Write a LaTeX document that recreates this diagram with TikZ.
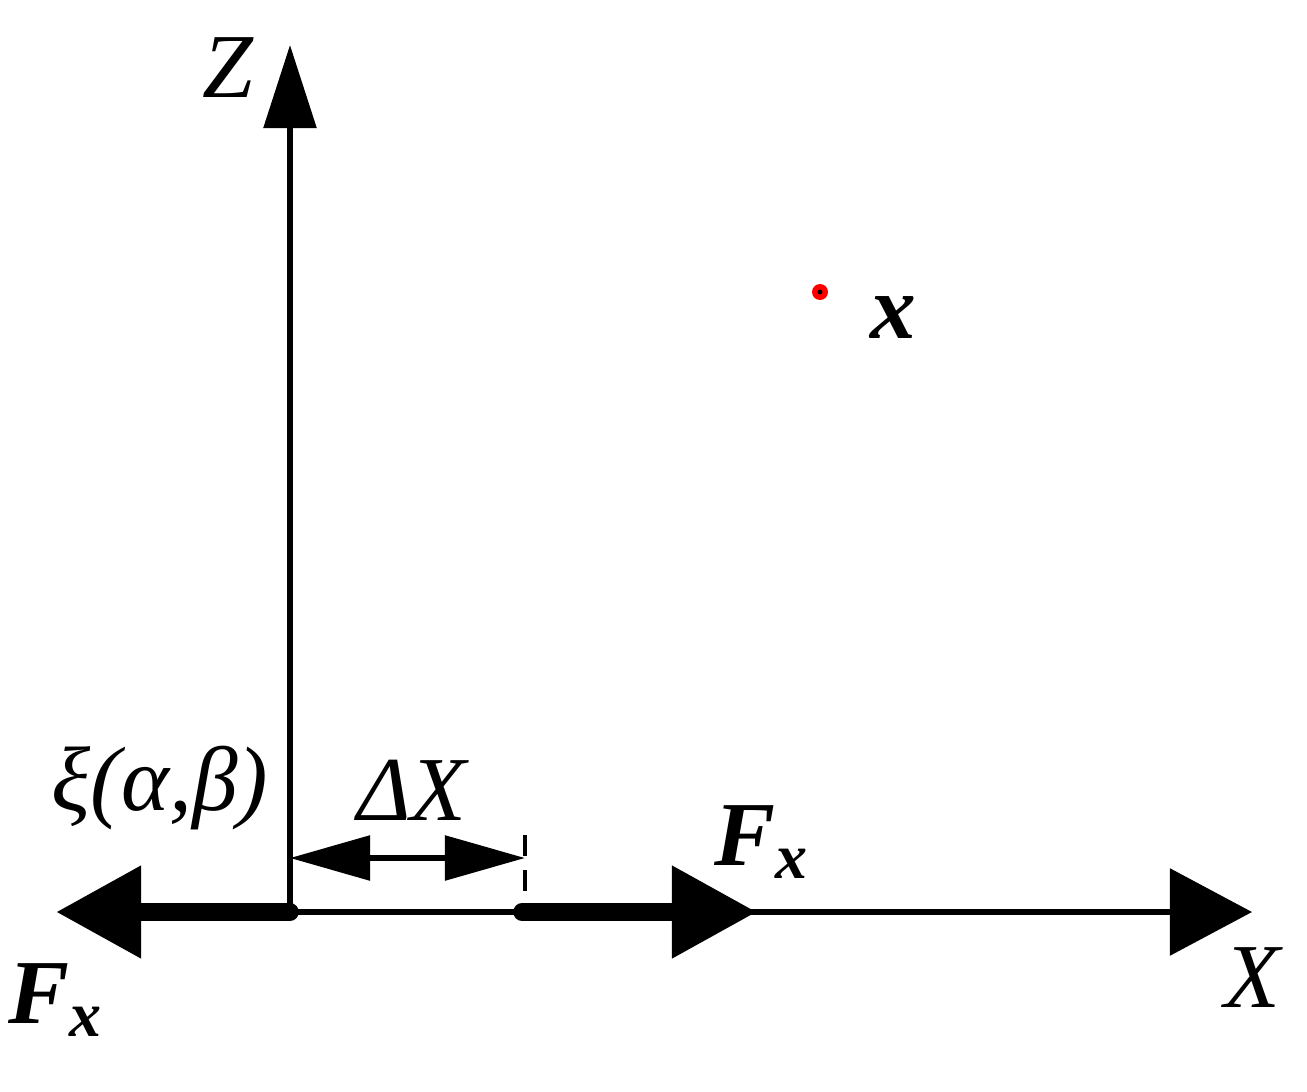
\documentclass[tikz,border=0pt]{standalone}
\usepackage{fontspec}
\setmainfont{Liberation Serif}
\usetikzlibrary{arrows.meta}
\begin{document}
\begin{tikzpicture}[x=0.01cm,y=-0.01cm,
  lbl/.style={inner sep=0pt,font=\fontsize{26}{30}\selectfont},
  axis/.style={line width=1.6pt,-{Triangle[length=0.82cm,width=0.86cm]}},
  force/.style={line width=5pt,line cap=round,-{Triangle[length=0.85cm,width=0.88cm]}}]
\useasboundingbox (0,0) rectangle (1307,1091);
\coordinate (O) at (290,912);
\coordinate (Ztip) at (290,45);
\coordinate (Xtip) at (1252,912);
\coordinate (Ltip) at (56,912);
\coordinate (R0) at (522,912);
\coordinate (Rtip) at (757,912);
\coordinate (D0) at (290,858);
\coordinate (D1) at (525,858);
\draw[line width=1.6pt,-{Triangle[length=0.83cm,width=0.52cm]}] (O) -- (Ztip);
\draw[axis] (O) -- (Xtip);
\draw[force] (O) -- (Ltip);
\draw[force] (R0) -- (Rtip);
\draw[line width=1.6pt,{Triangle[length=0.8cm,width=0.44cm]}-{Triangle[length=0.8cm,width=0.44cm]}] (D0) -- (D1);
\draw[line width=1.2pt,dashed,dash pattern=on 6pt off 4pt] (525,835) coordinate (dtop) -- (525,905) coordinate (dbot);
\fill[red] (820,292) circle (8);
\fill[black] (820,292) circle (2.5);
\node[lbl] (zl) at (228,68) {\itshape Z};
\node[lbl] (xl) at (1252,978) {\itshape X};
\node[lbl] (xi) at (160,788) {\itshape ξ(α,β)};
\node[lbl] (dx) at (412,790) {\itshape ΔX};
\node[lbl] (f1) at (762,842) {\bfseries\itshape F\textsubscript{x}};
\node[lbl] (f2) at (56,1000) {\bfseries\itshape F\textsubscript{x}};
\node[lbl] (xv) at (893,318) {\bfseries\itshape x};
\end{tikzpicture}
\end{document}
